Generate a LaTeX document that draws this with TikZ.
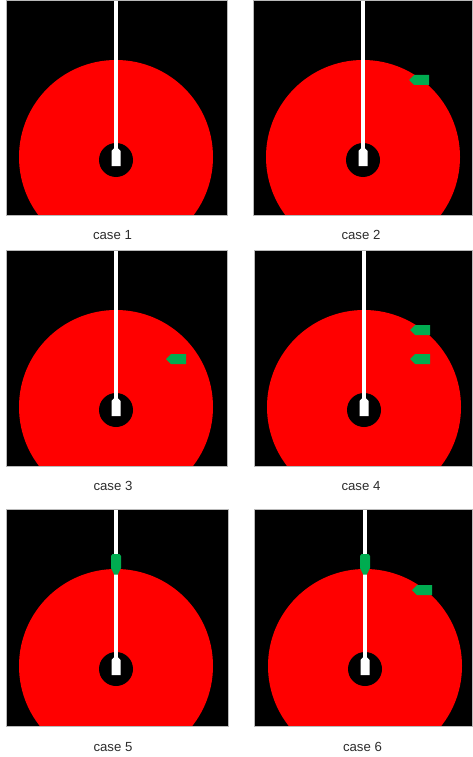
\documentclass[tikz,border=0pt]{standalone}
\usepackage{fontspec}
\setmainfont{Liberation Sans}
\definecolor{mkgreen}{RGB}{0,172,80}
\definecolor{lblgray}{RGB}{45,45,45}
\tikzset{
  panelbox/.style={fill=black},
  panelframe/.style={draw=gray!55, line width=0.6pt},
  disc/.style={fill=red},
  hole/.style={fill=black},
  probe/.style={fill=white},
  marker/.style={fill=mkgreen},
  caselabel/.style={text=lblgray, font=\fontsize{13.2}{15}\selectfont, inner sep=0pt},
}
% #1 left x, #2 top y, #3 width, #4 height, #5 centre x (relative)
\newcommand\casepanel[5]{%
 \begin{scope}[shift={(#1,#2)}]
  \fill[panelbox] (0,0) rectangle (#3,#4);
  \begin{scope}
   \clip (0,0) rectangle (#3,#4);
   \fill[disc] (#5,157) circle (97);
  \end{scope}
  \fill[hole] (#5,160) circle (17);
  \fill[probe] ([xshift=-1.6pt]#5,0) rectangle ([xshift=1.6pt]#5,149);
  \fill[probe] ([xshift=-4.5pt]#5,166) -- ([xshift=-4.5pt]#5,151) -- ([xshift=-1.6pt]#5,148)
     -- ([xshift=1.6pt]#5,148) -- ([xshift=4.5pt]#5,151) -- ([xshift=4.5pt]#5,166) -- cycle;
  \draw[panelframe] (0,0) rectangle (#3,#4);
 \end{scope}}
% horizontal green marker, #1 left x, #2 top y
\newcommand\hmarker[2]{%
 \begin{scope}[shift={(#1,#2)}]
  \fill[marker] (0,5) -- (5,0) -- (20,0) -- (20,10) -- (5,10) -- cycle;
 \end{scope}}
% vertical green marker, #1 centre x, #2 top y
\newcommand\vmarker[2]{%
 \begin{scope}[shift={(#1,#2)}]
  \fill[marker] (-5,2) -- (-3.5,0) -- (3.5,0) -- (5,2) -- (5,14) -- (1.8,20.5) -- (-1.8,20.5) -- (-5,14) -- cycle;
 \end{scope}}
\begin{document}
\begin{tikzpicture}[x=1pt,y=-1pt]
\useasboundingbox[fill=white] (0,0) rectangle (472,757);
% row 1
\casepanel{6}{0}{221}{215}{110}
\casepanel{253}{0}{219}{215}{110}
\hmarker{409}{75}
\node[caselabel] (l1) at (112.5,235) {case 1};
\node[caselabel] (l2) at (361,235) {case 2};
% row 2
\casepanel{6}{250}{221}{216}{110}
\casepanel{254}{250}{218}{216}{110}
\hmarker{166}{354}
\hmarker{410}{325}
\hmarker{410}{354}
\node[caselabel] (l3) at (113,486) {case 3};
\node[caselabel] (l4) at (361,486) {case 4};
% row 3
\casepanel{6}{509}{222}{217}{110}
\casepanel{254}{509}{218}{217}{111}
\vmarker{116}{554}
\vmarker{365}{554}
\hmarker{412}{585}
\node[caselabel] (l5) at (113,747) {case 5};
\node[caselabel] (l6) at (362.5,747) {case 6};
\end{tikzpicture}
\end{document}
